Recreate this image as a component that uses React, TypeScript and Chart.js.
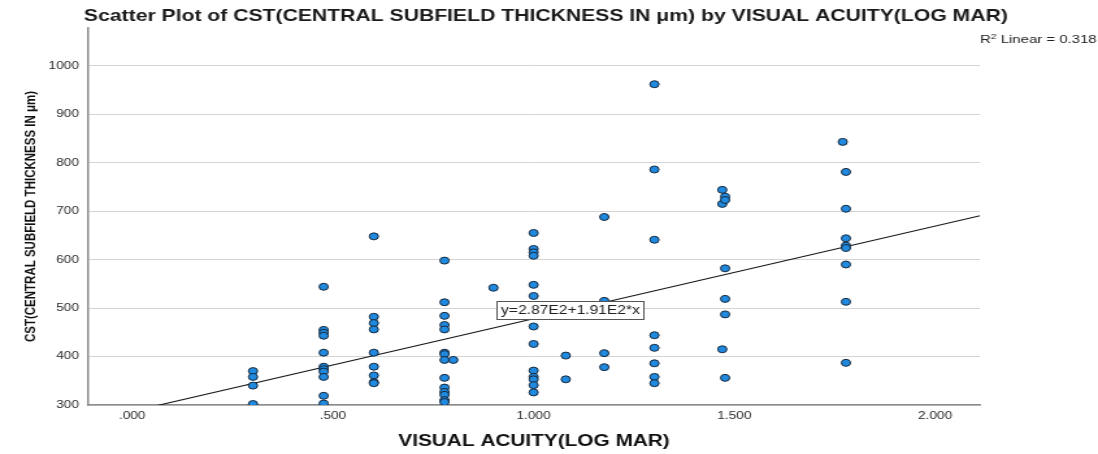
import React, { useEffect, useRef } from 'react';
import { Chart, registerables } from 'chart.js';

Chart.register(...registerables);

// ---- Text ----
const chartTitle = 'Scatter Plot of CST(CENTRAL SUBFIELD THICKNESS IN μm) by VISUAL ACUITY(LOG MAR)';
const xAxisTitle = 'VISUAL ACUITY(LOG MAR)';
const yAxisTitle = 'CST(CENTRAL SUBFIELD THICKNESS IN μm)';
const fitLabel = 'y=2.87E2+1.91E2*x';
const r2Text = ' Linear = 0.318';

// ---- Data (visual acuity logMAR, CST µm), column by column ----
const acuity = [
  0.301, 0.301, 0.301, 0.301,
  0.477, 0.477, 0.477, 0.477, 0.477, 0.477, 0.477, 0.477, 0.477, 0.477, 0.477,
  0.602, 0.602, 0.602, 0.602, 0.602, 0.602, 0.602, 0.602, 0.602,
  0.778, 0.778, 0.778, 0.778, 0.778, 0.778, 0.778, 0.778, 0.778, 0.778, 0.778, 0.778, 0.778, 0.778,
  0.8,
  0.9,
  1.0, 1.0, 1.0, 1.0, 1.0, 1.0, 1.0, 1.0, 1.0, 1.0, 1.0, 1.0, 1.0,
  1.08, 1.08,
  1.176, 1.176, 1.176, 1.176,
  1.301, 1.301, 1.301, 1.301, 1.301, 1.301, 1.301, 1.301,
  1.47, 1.47, 1.47,
  1.477, 1.477, 1.477, 1.477, 1.477, 1.477,
  1.77,
  1.778, 1.778, 1.778, 1.778, 1.778, 1.778, 1.778, 1.778,
];
const cst = [
  370, 358, 340, 302,
  544, 455, 449, 443, 408, 379, 374, 369, 358, 319, 303,
  648, 482, 469, 456, 408, 379, 361, 347, 345,
  598, 512, 484, 465, 456, 408, 405, 393, 356, 336, 327, 321, 310, 306,
  393,
  542,
  655, 622, 615, 608, 548, 525, 462, 426, 371, 358, 353, 341, 326,
  402, 353,
  688, 515, 407, 378,
  962, 786, 641, 444, 418, 386, 358, 345,
  744, 715, 415,
  730, 723, 582, 519, 487, 356,
  843,
  781, 705, 644, 629, 624, 590, 513, 387,
];

const xTicks = [0, 0.5, 1, 1.5, 2];
const yTicks = [300, 400, 500, 600, 700, 800, 900, 1000];
const xMin = -0.11;
const xMax = 2.112;
const yMin = 300;
const yMax = 1078;

// linear fit y = a + b*x
const fitIntercept = 287;
const fitSlope = 191;
const fitLabelX = 1.09;

// ---- Styles ----
const FONT = '"Liberation Sans", Arial, Helvetica, sans-serif';
const LOGICAL_W = 845;
const H = 454;
const DISPLAY_W = 1098;

const textPlugin = {
  id: 'spssText',
  afterDatasetsDraw(chart: any) {
    const { ctx, scales } = chart;
    const cx = scales.x.getPixelForValue(fitLabelX);
    const cy = scales.y.getPixelForValue(fitIntercept + fitSlope * fitLabelX);
    ctx.save();
    ctx.font = `12px ${FONT}`;
    const w = ctx.measureText(fitLabel).width;
    const bw = Math.round(w + 6);
    const bh = 18;
    const bx = Math.round(cx - bw / 2);
    const by = Math.round(cy - bh / 2);
    ctx.fillStyle = '#ffffff';
    ctx.fillRect(bx, by, bw, bh);
    ctx.strokeStyle = '#555555';
    ctx.lineWidth = 1;
    ctx.strokeRect(bx + 0.5, by + 0.5, bw, bh);
    ctx.fillStyle = '#222222';
    ctx.textAlign = 'center';
    ctx.textBaseline = 'middle';
    ctx.fillText(fitLabel, bx + bw / 2 + 0.5, by + bh / 2 + 1);
    ctx.restore();
  },
  afterDraw(chart: any) {
    const { ctx, chartArea } = chart;
    ctx.save();
    ctx.fillStyle = '#1a1a1a';
    ctx.textAlign = 'left';
    ctx.textBaseline = 'alphabetic';
    ctx.font = `bold 16.3px ${FONT}`;
    ctx.fillText(chartTitle, 64.6, 21);

    // R² label
    let x = chartArea.right;
    const y = 43;
    ctx.fillStyle = '#222222';
    ctx.font = `11.5px ${FONT}`;
    ctx.fillText('R', x, y);
    x += ctx.measureText('R').width;
    ctx.font = `8px ${FONT}`;
    ctx.fillText('2', x, y - 4.5);
    x += ctx.measureText('2').width;
    ctx.font = `11.5px ${FONT}`;
    ctx.fillText(r2Text, x, y);
    ctx.restore();
  },
};

function formatX(v: number): string {
  const s = v.toFixed(3);
  return s.startsWith('0') ? s.slice(1) : s;
}

export default function App() {
  const canvasRef = useRef<HTMLCanvasElement | null>(null);

  useEffect(() => {
    const canvas = canvasRef.current;
    if (!canvas) return;
    const points = acuity.map((a, i) => ({ x: a, y: cst[i] }));
    const fitLine = [
      { x: xMin, y: fitIntercept + fitSlope * xMin },
      { x: xMax, y: fitIntercept + fitSlope * xMax },
    ];
    const chart = new Chart(canvas, {
      type: 'scatter',
      data: {
        datasets: [
          {
            type: 'scatter',
            label: 'CST',
            data: points,
            pointRadius: 3.5,
            pointHoverRadius: 3.5,
            pointBackgroundColor: '#1f8ae0',
            pointBorderColor: '#17283a',
            pointBorderWidth: 1,
            order: 0,
          },
          {
            type: 'line',
            label: 'Fit',
            data: fitLine,
            borderColor: '#1a1a1a',
            borderWidth: 1.1,
            pointRadius: 0,
            fill: false,
            order: 1,
          } as any,
        ],
      },
      options: {
        animation: false,
        responsive: false,
        maintainAspectRatio: false,
        devicePixelRatio: 1,
        events: [],
        layout: { padding: { top: 28, right: LOGICAL_W - 980 * LOGICAL_W / DISPLAY_W, left: 0, bottom: 0 } },
        plugins: {
          legend: { display: false },
          tooltip: { enabled: false },
          title: { display: false },
        },
        scales: {
          x: {
            type: 'linear',
            min: xMin,
            max: xMax,
            z: 1,
            afterBuildTicks: (s: any) => {
              s.ticks = xTicks.map((v) => ({ value: v }));
            },
            afterFit: (s: any) => {
              s.height = H - 405;
            },
            grid: { display: false, drawTicks: false },
            border: { display: true, color: '#8c8c8c', width: 1.5 },
            ticks: {
              autoSkip: false,
              maxRotation: 0,
              padding: 5,
              color: '#2a2a2a',
              font: { family: FONT, size: 10.5 },
              callback: (v: any) => formatX(Number(v)),
            },
            title: {
              display: true,
              text: xAxisTitle,
              color: '#111111',
              font: { family: FONT, size: 16, weight: 'bold' },
              padding: { top: 0, bottom: 3 },
            },
          },
          y: {
            type: 'linear',
            min: yMin,
            max: yMax,
            afterBuildTicks: (s: any) => {
              s.ticks = yTicks.map((v) => ({ value: v }));
            },
            afterFit: (s: any) => {
              s.width = 88 * LOGICAL_W / DISPLAY_W;
            },
            grid: { color: '#d4d4d4', lineWidth: 1, drawTicks: false },
            border: { display: true, color: '#8c8c8c', width: 1.5 },
            ticks: {
              padding: 7,
              color: '#2a2a2a',
              font: { family: FONT, size: 10.5 },
              callback: (v: any) => String(v),
            },
            title: {
              display: true,
              text: yAxisTitle,
              color: '#111111',
              font: { family: FONT, size: 11.5, weight: 'bold' },
              padding: { top: 17, bottom: 0 },
            },
          },
        },
      },
      plugins: [textPlugin],
    } as any);
    return () => chart.destroy();
  }, []);

  return (
    <div style={{ position: 'fixed', left: 0, top: 0, width: DISPLAY_W, height: H, background: '#ffffff' }}>
      <canvas
        ref={canvasRef}
        width={LOGICAL_W}
        height={H}
        style={{ width: `${DISPLAY_W}px`, height: `${H}px`, display: 'block' }}
      />
    </div>
  );
}
